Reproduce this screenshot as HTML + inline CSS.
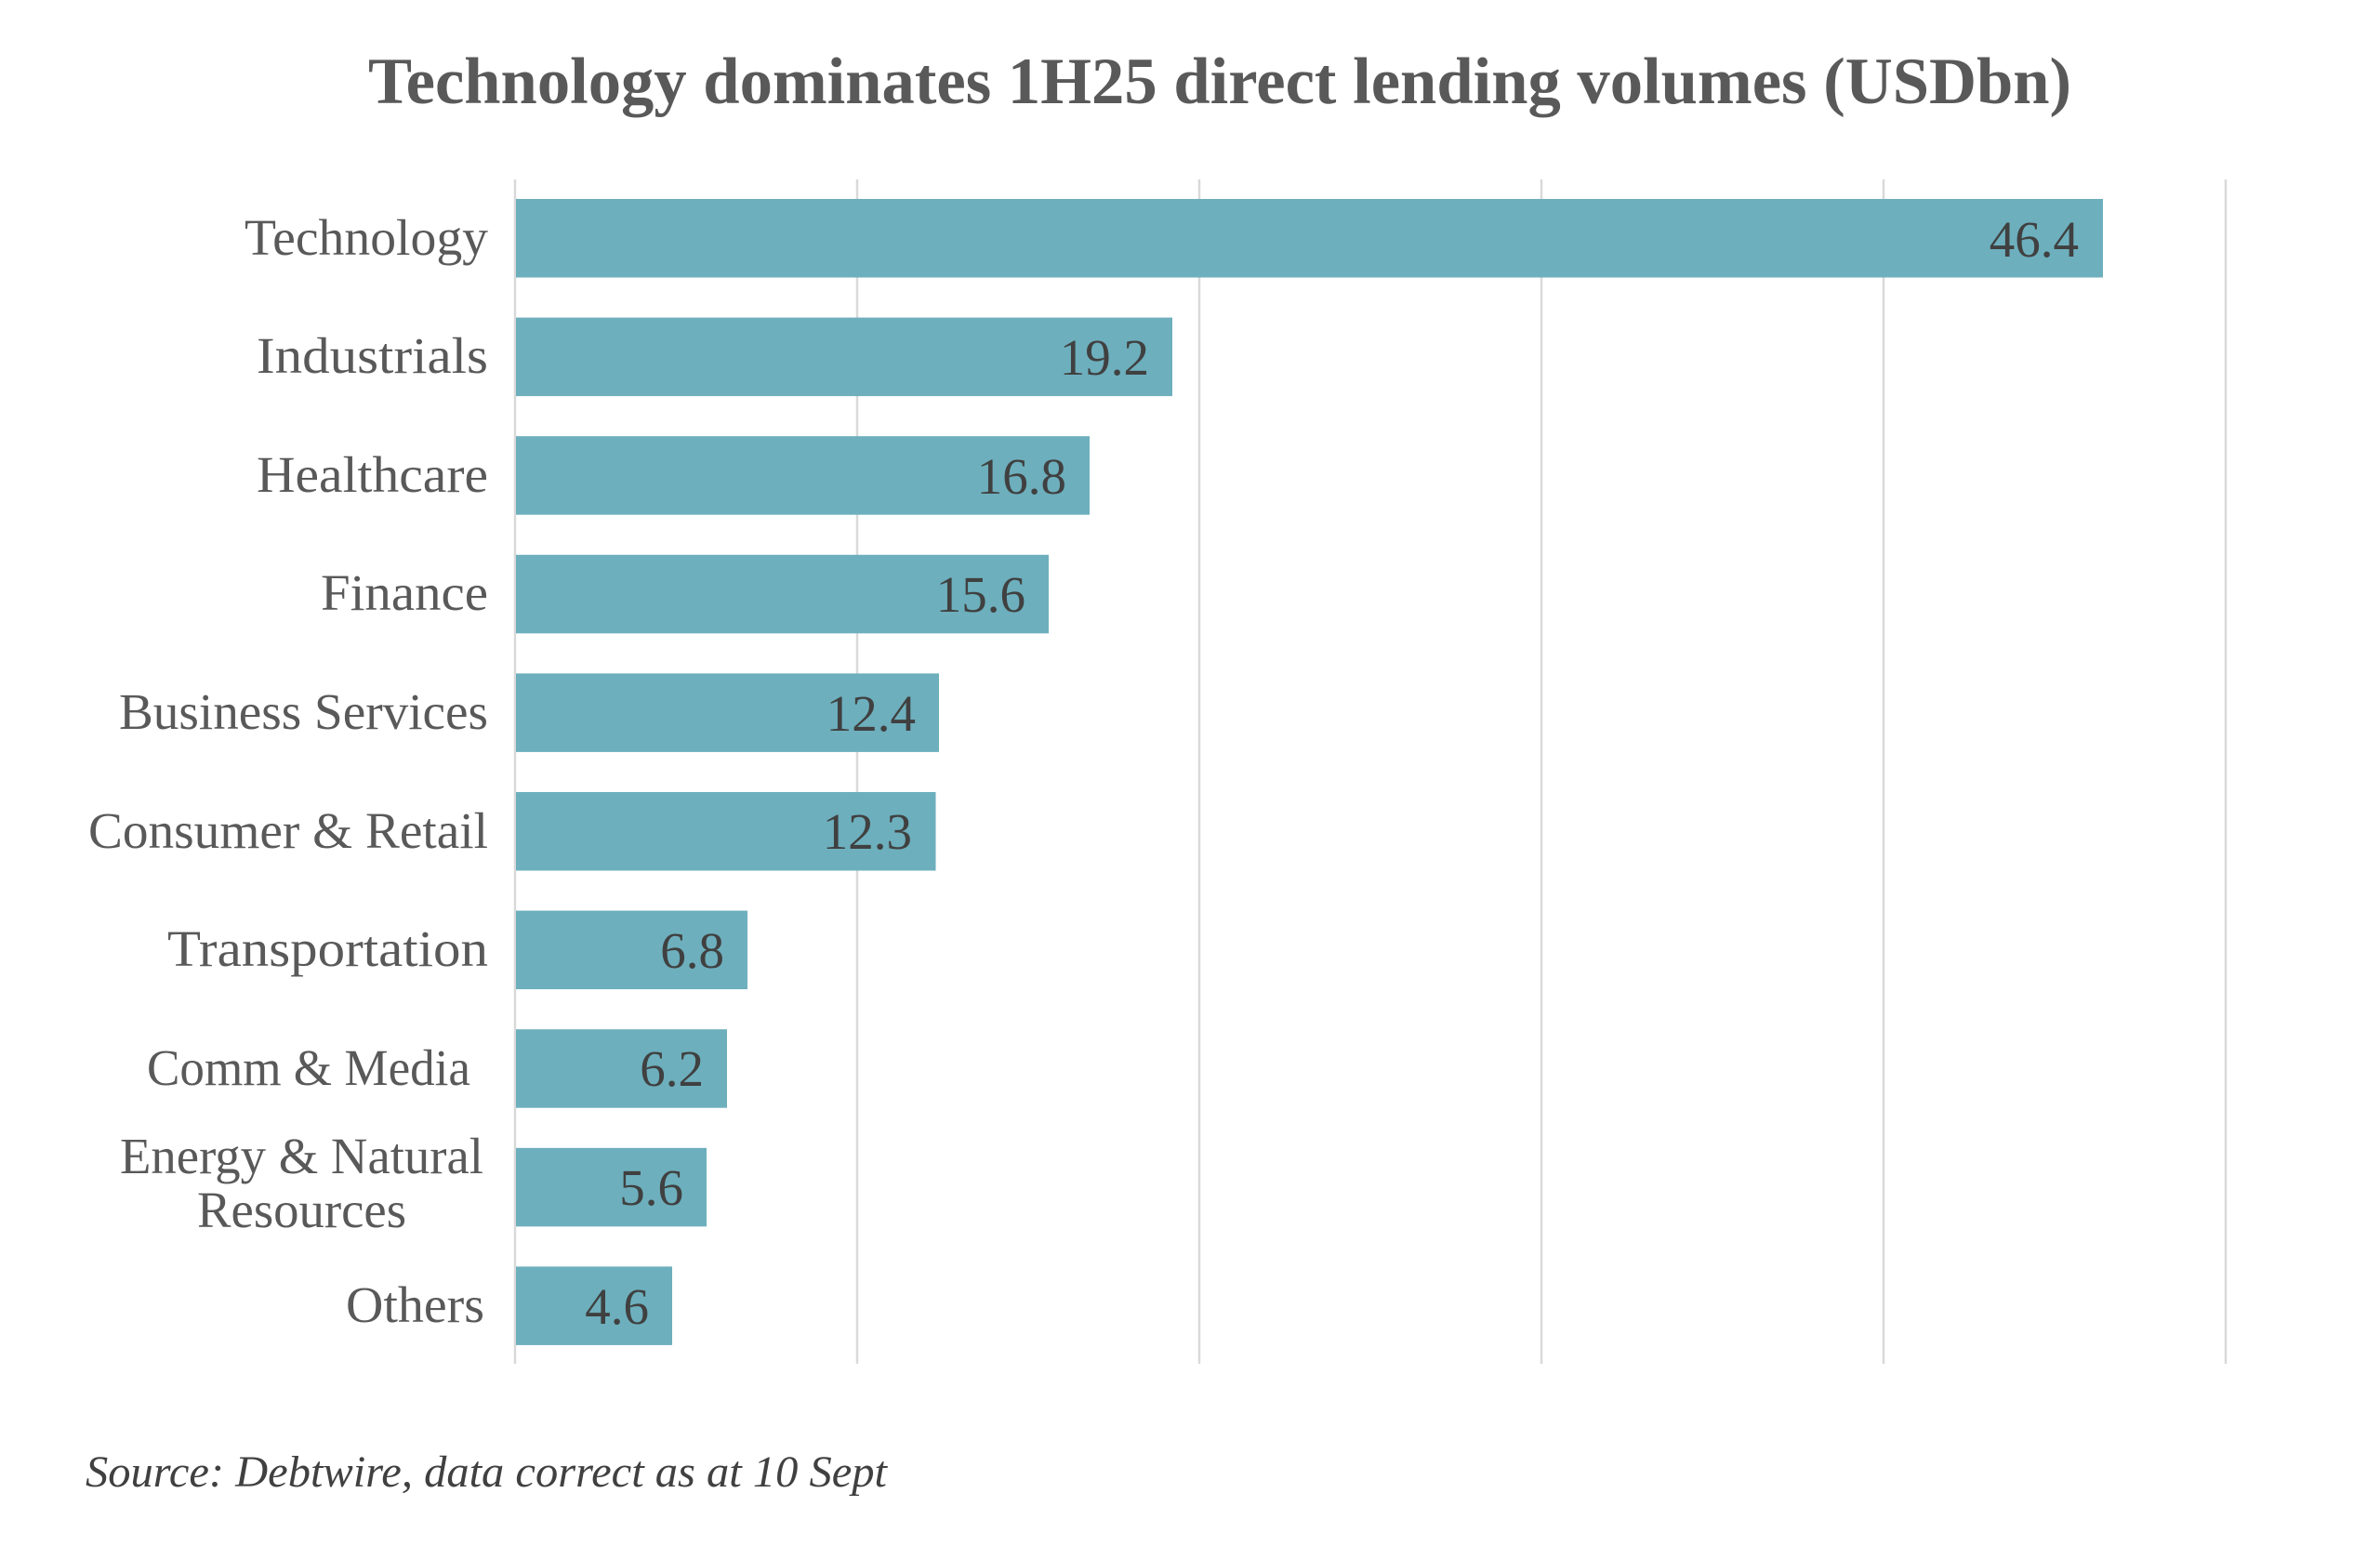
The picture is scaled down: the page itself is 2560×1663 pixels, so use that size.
<!DOCTYPE html>
<html>
<head>
<meta charset="utf-8">
<style>
html,body{margin:0;padding:0;background:#fff;}
svg{display:block;}
</style>
</head>
<body>
<svg width="2560" height="1663" viewBox="0 0 2560 1663" xmlns="http://www.w3.org/2000/svg">
<rect width="2560" height="1663" fill="#ffffff"/>
<text x="396" y="111" font-family="Liberation Serif, serif" font-weight="bold" font-size="71" fill="#595959" textLength="1832" lengthAdjust="spacingAndGlyphs">Technology dominates 1H25 direct lending volumes (USDbn)</text>
<g stroke="#d9d9d9" stroke-width="2.5">
<line x1="554" y1="193" x2="554" y2="1467"/>
<line x1="922" y1="193" x2="922" y2="1467"/>
<line x1="1290" y1="193" x2="1290" y2="1467"/>
<line x1="1658" y1="193" x2="1658" y2="1467"/>
<line x1="2026" y1="193" x2="2026" y2="1467"/>
<line x1="2394" y1="193" x2="2394" y2="1467"/>
</g>
<g fill="#6dafbd">
<rect x="555" y="214" width="1707" height="84.5"/>
<rect x="555" y="341.6" width="706" height="84.5"/>
<rect x="555" y="469.2" width="617" height="84.5"/>
<rect x="555" y="596.8" width="573" height="84.5"/>
<rect x="555" y="724.4" width="455" height="84.5"/>
<rect x="555" y="852" width="451.5" height="84.5"/>
<rect x="555" y="979.6" width="249" height="84.5"/>
<rect x="555" y="1107.2" width="227" height="84.5"/>
<rect x="555" y="1234.8" width="205" height="84.5"/>
<rect x="555" y="1362.4" width="168" height="84.5"/>
</g>
<g font-family="Liberation Serif, serif" font-size="55" fill="#595959">
<text x="263" y="274" textLength="262" lengthAdjust="spacingAndGlyphs">Technology</text>
<text x="276" y="401" textLength="249" lengthAdjust="spacingAndGlyphs">Industrials</text>
<text x="276" y="529" textLength="249" lengthAdjust="spacingAndGlyphs">Healthcare</text>
<text x="345" y="656" textLength="180" lengthAdjust="spacingAndGlyphs">Finance</text>
<text x="128" y="784" textLength="397" lengthAdjust="spacingAndGlyphs">Business Services</text>
<text x="95" y="912" textLength="430" lengthAdjust="spacingAndGlyphs">Consumer &amp; Retail</text>
<text x="180" y="1039" textLength="345" lengthAdjust="spacingAndGlyphs">Transportation</text>
<text x="158" y="1167" textLength="348" lengthAdjust="spacingAndGlyphs">Comm &amp; Media</text>
<text x="129" y="1262" textLength="391" lengthAdjust="spacingAndGlyphs">Energy &amp; Natural</text>
<text x="212" y="1320" textLength="225" lengthAdjust="spacingAndGlyphs">Resources</text>
<text x="372" y="1422" textLength="149" lengthAdjust="spacingAndGlyphs">Others</text>
</g>
<g font-family="Liberation Serif, serif" font-size="55" fill="#404040" text-anchor="end">
<text x="2236" y="276">46.4</text>
<text x="1236" y="403">19.2</text>
<text x="1147" y="531">16.8</text>
<text x="1103" y="658">15.6</text>
<text x="985" y="786">12.4</text>
<text x="981" y="913">12.3</text>
<text x="779" y="1041">6.8</text>
<text x="757" y="1168">6.2</text>
<text x="735" y="1296">5.6</text>
<text x="698" y="1424">4.6</text>
</g>
<text x="92" y="1599" font-family="Liberation Serif, serif" font-style="italic" font-size="48" fill="#404040" textLength="862" lengthAdjust="spacingAndGlyphs">Source: Debtwire, data correct as at 10 Sept</text>
</svg>
</body>
</html>
